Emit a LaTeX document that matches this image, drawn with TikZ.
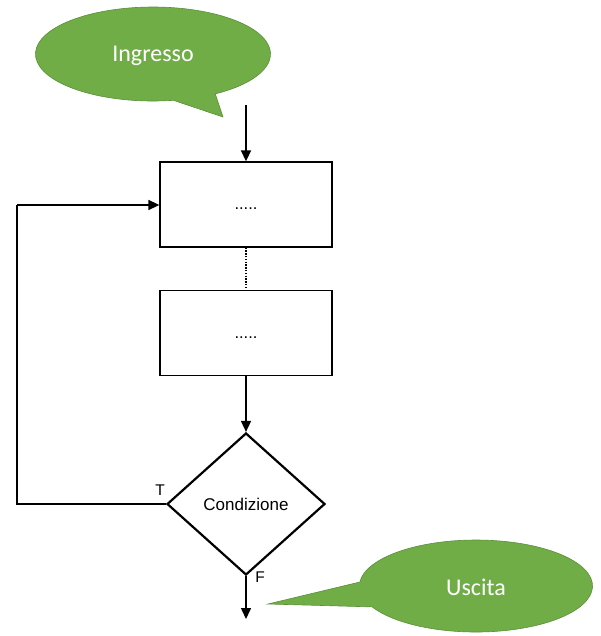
\documentclass[tikz,border=0pt]{standalone}
\usepackage{fontspec}
\setmainfont{Liberation Sans}
\newfontfamily\calib{Carlito}
\usetikzlibrary{shapes.geometric,arrows.meta}
\definecolor{cgreen}{HTML}{70AD47}
\definecolor{cgreenb}{HTML}{5A8F38}
\tikzset{
  box/.style={draw, line width=1.3pt, minimum width=172pt, minimum height=85pt, inner sep=0pt, font=\fontsize{16.5}{18}\selectfont},
  cond/.style={draw, line width=2.2pt, diamond, minimum width=158pt, minimum height=142pt, inner sep=0pt, aspect=1.11, font=\fontsize{17}{20}\selectfont},
  bubble/.style={fill=cgreen, draw=cgreenb, line width=0.6pt},
  btext/.style={text=white, font=\calib\fontsize{24}{28}\selectfont},
  conn/.style={line width=1.5pt, -{Triangle[length=11pt,width=10pt]}},
  lab/.style={font=\fontsize{15.5}{18}\selectfont, inner sep=0pt}
}
\begin{document}
\begin{tikzpicture}[x=1pt,y=-1pt]
\useasboundingbox (0,0) rectangle (600,636);
% Ingresso bubble
\draw[bubble] (215.3,93.9) -- (223,117) -- (173.4,100.3)
  arc[start angle=80, end angle=418, x radius=117.5, y radius=47] -- cycle;
\node[btext] (ingt) at (153,56) {Ingresso};
% Uscita bubble
\draw[bubble] (359.9,582) -- (268,604) -- (372.2,606.9)
  arc[start angle=153, end angle=-175, x radius=116.5, y radius=46] -- cycle;
\node[btext] (usct) at (476,587) {Uscita};
% flow
\coordinate (start) at (246,105);
\node[box] (b1) at (246,204.5) {\raisebox{-11pt}{.....}};
\node[box] (b2) at (246,333) {\raisebox{-11pt}{.....}};
\node[cond] (c) at (246,504) {Condizione};
\coordinate (end) at (246,619);
\coordinate (lb) at (17,504);
\coordinate (lt) at (17,205);
\draw[conn] (start) -- (b1.north);
\draw[line width=1.3pt, dash pattern=on 1.4pt off 1.4pt] (b1.south) -- (b2.north);
\draw[conn] (b2.south) -- (c.north);
\draw[line width=1.5pt] (c.west) -- (lb) -- (lt);
\draw[conn] (lt) -- (b1.west |- lt);
\draw[conn] (c.south) -- (end);
\node[lab] (t) at (160,490) {T};
\node[lab] (f) at (260,577) {F};
\end{tikzpicture}
\end{document}
